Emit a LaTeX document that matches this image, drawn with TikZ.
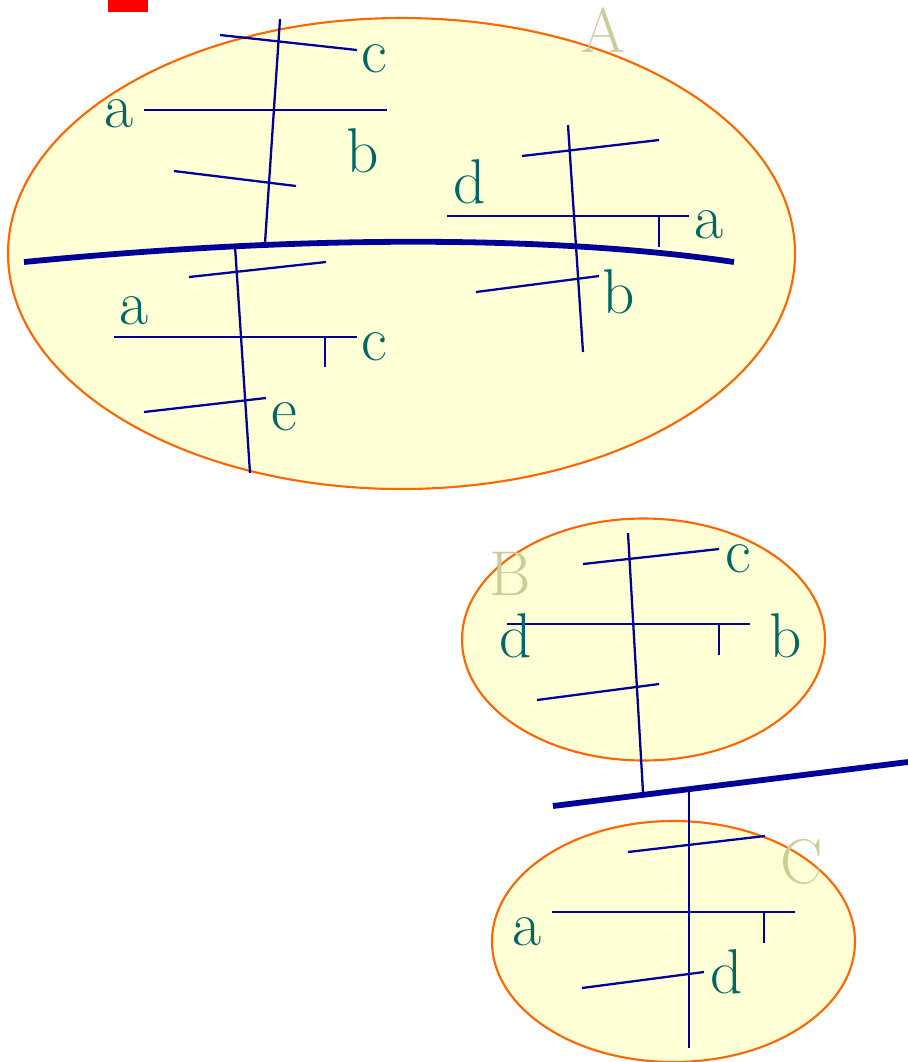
\documentclass[tikz,border=0pt]{standalone}
\definecolor{fillY}{HTML}{FFFFD5}
\definecolor{edgeO}{HTML}{FF6600}
\definecolor{navy}{HTML}{000099}
\definecolor{teal}{HTML}{006666}
\definecolor{khaki}{HTML}{CCCC99}
\tikzset{
  region/.style={draw=edgeO, line width=0.6pt, fill=fillY},
  thin/.style={draw=navy, line width=0.65pt},
  thick/.style={draw=navy, line width=1.65pt},
  lbl/.style={anchor=base, inner sep=0pt, text=teal, font=\fontsize{18}{20}\selectfont},
  big/.style={anchor=base, inner sep=0pt, text=khaki, font=\fontsize{18}{20}\selectfont},
}
\begin{document}
\begin{tikzpicture}[x=0.01cm, y=-0.01cm]
\useasboundingbox (0,0) rectangle (908,1062);
% red mark
\fill[red] (108,0) rectangle (148,12);
% regions
\draw[region] (401.5,253.5) ellipse [x radius=393.5, y radius=235.5];
\draw[region] (643.5,639.5) ellipse [x radius=181.5, y radius=121];
\draw[region] (673.5,941.5) ellipse [x radius=181.5, y radius=120.5];
% thick boundaries
\draw[thick] (24,262) .. controls (300,235) and (550,235) .. (734,262);
\draw[thick] (553,806) -- (908,762);
% upper-left cluster
\draw[thin] (280,19) -- (265,243);
\draw[thin] (220,35) -- (357,50);
\draw[thin] (144,110) -- (387,110);
\draw[thin] (174,171) -- (296,186);
\node[lbl] (c1) at (374,72) {c};
\node[lbl] (a1) at (119,127) {a};
\node[lbl] (b1) at (363,172) {b};
% lower-left cluster
\draw[thin] (235,246) -- (250,473);
\draw[thin] (189,277) -- (326,262);
\draw[thin] (114,337) -- (357,337);
\draw[thin] (325,337) -- (325,367);
\draw[thin] (144,412) -- (266,398);
\node[lbl] (a2) at (134,324) {a};
\node[lbl] (c2) at (374,360) {c};
\node[lbl] (e2) at (284,430) {e};
% right cluster in A
\draw[thin] (568,125) -- (583,352);
\draw[thin] (522,156) -- (659,140);
\draw[thin] (447,216) -- (689,216);
\draw[thin] (659,216) -- (659,247);
\draw[thin] (476,292) -- (599,276);
\node[lbl] (d3) at (470,203) {d};
\node[lbl] (a3) at (709,238) {a};
\node[lbl] (b3) at (619,313) {b};
\node[big] (A) at (603,52) {A};
% B cluster
\draw[thin] (628,533) -- (643,792);
\draw[thin] (583,564) -- (719,549);
\draw[thin] (507,624) -- (750,624);
\draw[thin] (719,624) -- (719,655);
\draw[thin] (537,700) -- (659,684);
\node[big] (B) at (510,595) {B};
\node[lbl] (cB) at (738,572) {c};
\node[lbl] (dB) at (516,657) {d};
\node[lbl] (bB) at (786,657) {b};
% C cluster
\draw[thin] (689,790) -- (689,1048);
\draw[thin] (628,852) -- (765,836);
\draw[thin] (552,912) -- (795,912);
\draw[thin] (764,912) -- (764,943);
\draw[thin] (582,988) -- (704,972);
\node[big] (C) at (802,883) {C};
\node[lbl] (aC) at (527,945) {a};
\node[lbl] (dC) at (727,993) {d};
\end{tikzpicture}
\end{document}
